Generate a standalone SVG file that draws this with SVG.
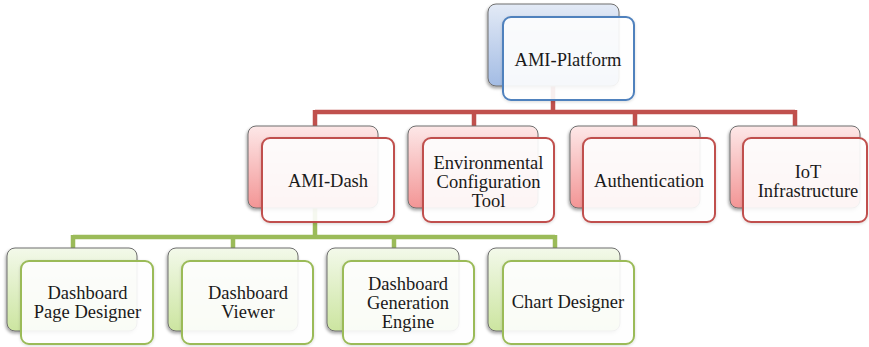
<svg xmlns="http://www.w3.org/2000/svg" width="869" height="347" viewBox="0 0 869 347">
<defs>
<linearGradient id="gB" x1="0" y1="0" x2="0" y2="1"><stop offset="0" stop-color="#e3eaf6"/><stop offset="1" stop-color="#a3bce4"/></linearGradient>
<linearGradient id="gR" x1="0" y1="0" x2="0" y2="1"><stop offset="0" stop-color="#fde8e8"/><stop offset="1" stop-color="#f39595"/></linearGradient>
<linearGradient id="gG" x1="0" y1="0" x2="0" y2="1"><stop offset="0" stop-color="#f3f9ea"/><stop offset="1" stop-color="#cce5a0"/></linearGradient>
<filter id="sh" x="-10%" y="-10%" width="125%" height="130%"><feDropShadow dx="-1" dy="2" stdDeviation="1.5" flood-color="#000" flood-opacity="0.35"/></filter>
<filter id="sh2" x="-10%" y="-10%" width="125%" height="130%"><feDropShadow dx="0" dy="1" stdDeviation="1.5" flood-color="#000" flood-opacity="0.15"/></filter>
</defs>
<style>
.back{stroke:#6f6f6f;stroke-width:1;filter:url(#sh)}
.front{fill:#fff;fill-opacity:0.9;stroke-width:2;filter:url(#sh2)}
.b .back{fill:url(#gB)} .b .front{stroke:#4f81bd}
.r .back{fill:url(#gR)} .r .front{stroke:#c0504d}
.g .back{fill:url(#gG)} .g .front{stroke:#9bbb59}
text{font-family:"Liberation Serif","Times New Roman",serif;font-size:18.5px;fill:#1a1a1a;text-anchor:middle}
.cr{stroke:#c0504d;stroke-width:4.5;fill:none}
.cg{stroke:#9bbb59;stroke-width:4.5;fill:none}
</style>
<g id="connectors">
<path class="cr" d="M553 86V112M315 112H795M315 110V127M474 110V127M635 110V127M795 110V127"/>
<path class="cg" d="M315 208V237M73 237H555M73 235V248M233 235V248M394 235V248M555 235V248"/>
</g>
<g id="ami-platform" class="b">
<rect class="back" x="488" y="4" width="131" height="82" rx="8"/>
<rect class="front" x="503" y="17" width="131" height="83" rx="8"/>
<text x="568" y="66">AMI-Platform</text>
</g>
<g id="ami-dash" class="r">
<rect class="back" x="248" y="126" width="130" height="82" rx="8"/>
<rect class="front" x="262" y="138" width="132" height="84" rx="8"/>
<text x="328" y="187">AMI-Dash</text>
</g>
<g id="env-config" class="r">
<rect class="back" x="408" y="126" width="130" height="82" rx="8"/>
<rect class="front" x="423" y="138" width="131" height="84" rx="8"/>
<text x="488.5" y="169">Environmental</text>
<text x="488.5" y="188">Configuration</text>
<text x="488.5" y="207">Tool</text>
</g>
<g id="authentication" class="r">
<rect class="back" x="570" y="126" width="130" height="82" rx="8"/>
<rect class="front" x="583" y="138" width="132" height="84" rx="8"/>
<text x="649" y="187">Authentication</text>
</g>
<g id="iot" class="r">
<rect class="back" x="730" y="126" width="130" height="82" rx="8"/>
<rect class="front" x="743" y="138" width="124" height="84" rx="8"/>
<text x="808" y="178">IoT</text>
<text x="808" y="197">Infrastructure</text>
</g>
<g id="page-designer" class="g">
<rect class="back" x="7" y="248" width="130" height="83" rx="8"/>
<rect class="front" x="21" y="261" width="132" height="83" rx="8"/>
<text x="87.5" y="299">Dashboard</text>
<text x="87.5" y="318">Page Designer</text>
</g>
<g id="viewer" class="g">
<rect class="back" x="168" y="248" width="130" height="83" rx="8"/>
<rect class="front" x="182" y="261" width="131" height="83" rx="8"/>
<text x="248" y="299">Dashboard</text>
<text x="248" y="318">Viewer</text>
</g>
<g id="generation-engine" class="g">
<rect class="back" x="327" y="248" width="132" height="83" rx="8"/>
<rect class="front" x="343" y="261" width="131" height="83" rx="8"/>
<text x="408" y="290">Dashboard</text>
<text x="408" y="309">Generation</text>
<text x="408" y="328">Engine</text>
</g>
<g id="chart-designer" class="g">
<rect class="back" x="488" y="248" width="132" height="83" rx="8"/>
<rect class="front" x="503" y="261" width="131" height="83" rx="8"/>
<text x="568" y="308">Chart Designer</text>
</g>
</svg>
